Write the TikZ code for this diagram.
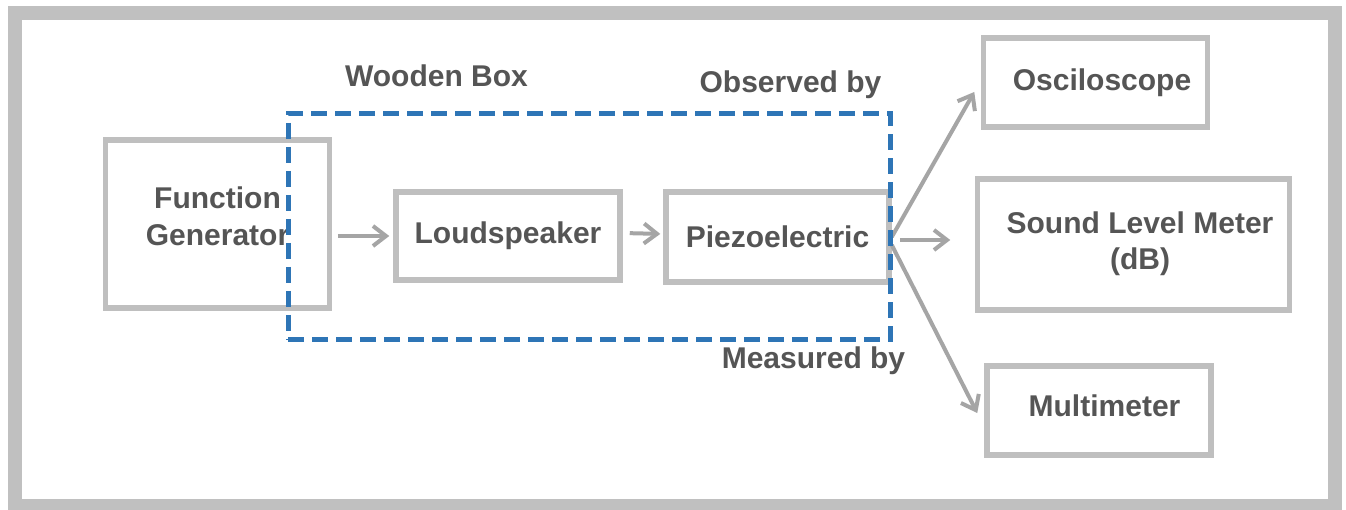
\documentclass[tikz,border=0pt]{standalone}
\usepackage{fontspec}
\setmainfont{Liberation Sans}
\usetikzlibrary{arrows.meta}
\definecolor{framegray}{HTML}{C0C0C0}
\definecolor{boxgray}{HTML}{BFBFBF}
\definecolor{arrowgray}{HTML}{A5A5A5}
\definecolor{txtgray}{HTML}{555555}
\definecolor{dashblue}{HTML}{2E75B6}
\begin{document}
\begin{tikzpicture}[x=1pt,y=-1pt,
  txt/.style={text=txtgray,font=\fontsize{30}{37}\selectfont\bfseries},
  box/.style={draw=boxgray,line width=5.5pt,rectangle,inner sep=0pt,txt,align=center},
  arr/.style={draw=arrowgray,line width=4pt,-{Straight Barb[length=13pt,width=20pt]}},
  woodbox/.style={draw=dashblue,line width=5pt,dash pattern=on 16pt off 8pt,rectangle,inner sep=0pt}]
\useasboundingbox (0,0) rectangle (1346,510);
\fill[white] (0,0) rectangle (1346,510);
\draw[framegray,line width=14pt] (15,13) rectangle (1335,506);

\node[box,minimum width=224pt,minimum height=168pt,text depth=16.5pt] (FG) at (217.5,224) {Function\\Generator};
\node[box,minimum width=224pt,minimum height=88pt] (LS) at (508,236) {Loudspeaker};
\node[box,minimum width=223pt,minimum height=90pt] (PZ) at (777.5,237) {Piezoelectric};
\node[box,minimum width=224pt,minimum height=89pt] (OS) at (1095.5,82.5) {\hspace*{13pt}Osciloscope};
\node[box,minimum width=312pt,minimum height=131pt,font=\fontsize{30}{36}\selectfont\bfseries,text depth=8pt] (SL) at (1133.5,244.5) {\hspace*{13pt}Sound Level Meter\\\hspace*{13pt}(dB)};
\node[box,minimum width=224pt,minimum height=89pt,text depth=9pt] (MM) at (1099,410.5) {\hspace*{11pt}Multimeter};

\draw[arr,shorten <=5.5pt,shorten >=4pt] (FG.east |- LS.west) -- (LS.west);
\draw[arr,shorten <=7pt,shorten >=3pt] ([yshift=3pt]LS.east) -- ([yshift=3pt]PZ.west);
\draw[arr] (PZ.east) -- ([xshift=-6.5pt,yshift=-9.5pt]OS.west);
\draw[arr] ([xshift=8pt,yshift=-3pt]PZ.east) -- ([xshift=-24.5pt,yshift=4.5pt]SL.west);
\draw[arr] ([yshift=-8pt]PZ.east) -- ([xshift=-7pt,yshift=-2.5pt]MM.west);

\node[woodbox,minimum width=602pt,minimum height=226.5pt] (WB) at (589,226.75) {};

\node[txt,anchor=base] (wbl) at (436.5,87) {Wooden Box};
\node[txt,anchor=base] (obs) at (790.5,93) {Observed by};
\node[txt,anchor=base] (mea) at (813.5,368) {Measured by};
\end{tikzpicture}
\end{document}
